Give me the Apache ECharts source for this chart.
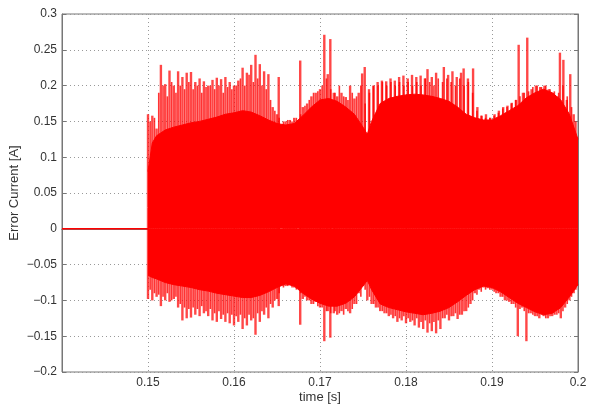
<!DOCTYPE html>
<html>
<head>
<meta charset="utf-8">
<script src="https://cdn.jsdelivr.net/npm/echarts@6/dist/echarts.min.js"></script>
<style>html,body{margin:0;padding:0;background:#fff;}#c{width:589px;height:405px;}</style>
</head>
<body>
<div id="c"></div>
<script>
// ---- data ----
const preTime = [0.14, 0.15];
const preValue = [0, 0];

const coreTime = [0.1500,0.1505,0.1510,0.1520,0.1530,0.1540,0.1550,0.1560,0.1570,0.1580,0.1590,0.1600,0.1610,0.1620,0.1630,0.1640,0.1650,0.1660,0.1670,0.1680,0.1690,0.1700,0.1710,0.1720,0.1730,0.1740,0.1750,0.1755,0.1760,0.1770,0.1780,0.1790,0.1800,0.1810,0.1820,0.1830,0.1840,0.1850,0.1860,0.1870,0.1880,0.1890,0.1900,0.1910,0.1920,0.1930,0.1940,0.1950,0.1960,0.1970,0.1980,0.1990,0.2000];
const coreTop = [0.08,0.12,0.13,0.138,0.142,0.145,0.148,0.15,0.153,0.156,0.16,0.162,0.165,0.163,0.158,0.152,0.147,0.145,0.147,0.158,0.17,0.18,0.182,0.178,0.17,0.16,0.142,0.132,0.15,0.175,0.182,0.185,0.187,0.188,0.187,0.185,0.182,0.178,0.17,0.16,0.155,0.152,0.152,0.158,0.165,0.172,0.183,0.19,0.195,0.19,0.18,0.16,0.125];
const coreBottom = [-0.065,-0.068,-0.07,-0.075,-0.078,-0.08,-0.082,-0.085,-0.087,-0.09,-0.092,-0.094,-0.096,-0.096,-0.093,-0.088,-0.082,-0.077,-0.08,-0.09,-0.098,-0.104,-0.108,-0.108,-0.104,-0.095,-0.08,-0.072,-0.085,-0.105,-0.11,-0.113,-0.116,-0.118,-0.12,-0.118,-0.115,-0.11,-0.102,-0.093,-0.085,-0.08,-0.082,-0.088,-0.096,-0.104,-0.11,-0.116,-0.12,-0.118,-0.11,-0.095,-0.078];

// tallest spikes of each ripple group
const spikeTopTime = [0.1500,0.1505,0.1510,0.1515,0.1520,0.1525,0.1530,0.1535,0.1540,0.1545,0.1550,0.1555,0.1560,0.1565,0.1570,0.1575,0.1580,0.1585,0.1590,0.1595,0.1600,0.1605,0.1610,0.1615,0.1620,0.1625,0.1630,0.1635,0.1640,0.1645,0.1650,0.1652,0.1660,0.1665,0.1670,0.1677,0.1680,0.1685,0.1690,0.1695,0.1700,0.1705,0.1709,0.1712,0.1716,0.1720,0.1725,0.1730,0.1735,0.1740,0.1745,0.1749,0.1752,0.1757,0.1762,0.1767,0.1772,0.1777,0.1782,0.1787,0.1792,0.1797,0.1802,0.1807,0.1812,0.1817,0.1822,0.1825,0.1830,0.1835,0.1844,0.1849,0.1854,0.1859,0.1864,0.1867,0.1872,0.1878,0.1883,0.1888,0.1893,0.1898,0.1903,0.1908,0.1913,0.1918,0.1923,0.1928,0.1931,0.1936,0.1941,0.1946,0.1951,0.1956,0.1961,0.1966,0.1971,0.1976,0.1979,0.1983,0.1987,0.1991,0.1995,0.1999];
const spikeTopValue = [0.16,0.158,0.14,0.229,0.202,0.221,0.2,0.22,0.212,0.218,0.219,0.205,0.21,0.206,0.2,0.208,0.211,0.209,0.212,0.205,0.2,0.207,0.225,0.218,0.229,0.243,0.23,0.22,0.216,0.17,0.16,0.212,0.15,0.152,0.155,0.235,0.17,0.175,0.185,0.19,0.195,0.271,0.216,0.265,0.19,0.185,0.19,0.184,0.2,0.182,0.19,0.217,0.226,0.195,0.2,0.205,0.207,0.206,0.21,0.207,0.212,0.214,0.21,0.215,0.212,0.214,0.21,0.223,0.212,0.218,0.226,0.215,0.22,0.212,0.218,0.224,0.21,0.224,0.17,0.158,0.16,0.155,0.16,0.165,0.17,0.172,0.176,0.18,0.257,0.19,0.267,0.195,0.2,0.198,0.2,0.195,0.19,0.185,0.246,0.236,0.18,0.216,0.16,0.128];

const spikeBottomTime = [0.1500,0.1505,0.1510,0.1515,0.1520,0.1525,0.1530,0.1535,0.1540,0.1545,0.1550,0.1555,0.1560,0.1565,0.1570,0.1575,0.1580,0.1585,0.1590,0.1595,0.1600,0.1605,0.1610,0.1615,0.1620,0.1625,0.1630,0.1635,0.1640,0.1645,0.1650,0.1652,0.1660,0.1665,0.1670,0.1677,0.1680,0.1685,0.1690,0.1695,0.1700,0.1705,0.1709,0.1712,0.1716,0.1720,0.1725,0.1730,0.1735,0.1740,0.1745,0.1750,0.1755,0.1760,0.1765,0.1770,0.1775,0.1780,0.1785,0.1790,0.1795,0.1800,0.1805,0.1810,0.1815,0.1820,0.1825,0.1830,0.1835,0.1840,0.1845,0.1850,0.1855,0.1860,0.1865,0.1870,0.1875,0.1880,0.1885,0.1890,0.1895,0.1900,0.1905,0.1910,0.1915,0.1920,0.1925,0.1930,0.1935,0.1940,0.1945,0.1950,0.1955,0.1960,0.1965,0.1970,0.1975,0.1980,0.1985,0.1990,0.1995,0.2000];
const spikeBottomValue = [-0.098,-0.1,-0.095,-0.108,-0.1,-0.102,-0.098,-0.11,-0.128,-0.125,-0.124,-0.12,-0.122,-0.118,-0.122,-0.128,-0.13,-0.126,-0.13,-0.132,-0.135,-0.13,-0.14,-0.135,-0.128,-0.148,-0.13,-0.12,-0.125,-0.11,-0.098,-0.108,-0.08,-0.078,-0.082,-0.134,-0.098,-0.1,-0.105,-0.102,-0.11,-0.157,-0.115,-0.152,-0.118,-0.12,-0.115,-0.112,-0.118,-0.105,-0.09,-0.08,-0.1,-0.105,-0.11,-0.115,-0.118,-0.122,-0.125,-0.13,-0.128,-0.132,-0.13,-0.135,-0.138,-0.14,-0.145,-0.143,-0.146,-0.14,-0.125,-0.128,-0.122,-0.126,-0.12,-0.115,-0.105,-0.09,-0.085,-0.082,-0.083,-0.085,-0.09,-0.095,-0.1,-0.102,-0.105,-0.15,-0.11,-0.157,-0.118,-0.122,-0.125,-0.122,-0.125,-0.122,-0.12,-0.125,-0.11,-0.1,-0.09,-0.078];

// medium-height spikes between the tall ones
const midTime = [0.15025,0.15075,0.15125,0.15175,0.15225,0.15275,0.15325,0.15375,0.15425,0.15475,0.15525,0.15575,0.15625,0.15675,0.15725,0.15775,0.15825,0.15875,0.15925,0.15975,0.16025,0.16075,0.16125,0.16175,0.16225,0.16275,0.16325,0.16375,0.16425,0.16475,0.16525,0.16575,0.16625,0.16675,0.16725,0.16775,0.16825,0.16875,0.16925,0.16975,0.17025,0.17075,0.17125,0.17175,0.17225,0.17275,0.17325,0.17375,0.17425,0.17475,0.17525,0.17575,0.17625,0.17675,0.17725,0.17775,0.17825,0.17875,0.17925,0.17975,0.18025,0.18075,0.18125,0.18175,0.18225,0.18275,0.18325,0.18375,0.18425,0.18475,0.18525,0.18575,0.18625,0.18675,0.18725,0.18775,0.18825,0.18875,0.18925,0.18975,0.19025,0.19075,0.19125,0.19175,0.19225,0.19275,0.19325,0.19375,0.19425,0.19475,0.19525,0.19575,0.19625,0.19675,0.19725,0.19775,0.19825,0.19875,0.19925,0.19975];
const midTopValue = [0.15,0.155,0.19,0.2,0.185,0.205,0.19,0.2,0.195,0.205,0.195,0.2,0.19,0.198,0.2,0.195,0.2,0.19,0.198,0.195,0.2,0.21,0.2,0.215,0.205,0.21,0.2,0.195,0.18,0.165,0.155,0.15,0.152,0.15,0.155,0.16,0.172,0.18,0.19,0.192,0.2,0.21,0.195,0.19,0.2,0.185,0.18,0.19,0.185,0.2,0.175,0.19,0.2,0.2,0.205,0.2,0.205,0.2,0.205,0.2,0.205,0.2,0.205,0.2,0.21,0.205,0.2,0.21,0.205,0.21,0.205,0.2,0.21,0.2,0.205,0.19,0.165,0.158,0.155,0.155,0.158,0.162,0.168,0.17,0.175,0.18,0.185,0.19,0.192,0.198,0.2,0.198,0.2,0.195,0.192,0.19,0.2,0.185,0.17,0.15];
const midBottomValue = [-0.085,-0.09,-0.092,-0.095,-0.09,-0.1,-0.095,-0.105,-0.11,-0.112,-0.11,-0.112,-0.108,-0.115,-0.112,-0.118,-0.115,-0.12,-0.118,-0.12,-0.122,-0.12,-0.125,-0.12,-0.125,-0.118,-0.115,-0.11,-0.105,-0.1,-0.09,-0.082,-0.08,-0.082,-0.085,-0.09,-0.095,-0.1,-0.105,-0.108,-0.11,-0.115,-0.118,-0.115,-0.118,-0.12,-0.115,-0.112,-0.105,-0.095,-0.085,-0.095,-0.105,-0.11,-0.115,-0.118,-0.12,-0.122,-0.125,-0.122,-0.125,-0.128,-0.125,-0.13,-0.128,-0.132,-0.13,-0.128,-0.125,-0.12,-0.122,-0.118,-0.12,-0.115,-0.11,-0.1,-0.092,-0.088,-0.085,-0.085,-0.088,-0.09,-0.095,-0.1,-0.105,-0.11,-0.112,-0.115,-0.118,-0.12,-0.122,-0.12,-0.125,-0.122,-0.12,-0.118,-0.115,-0.105,-0.095,-0.085];

// ---- chart ----
const pairs = (xs, ys) => xs.map((x, i) => [x, ys[i]]);
const RED = '#ff0000';
const FONT = 'Liberation Sans';
const fmtNum = v => String(+v.toFixed(3)).replace('-', '\u2212');

const makeSpikeRender = (width, color) => (params, api) => {
  const t = api.value(0), v = api.value(1);
  const p0 = api.coord([t, 0.03]);
  const p1 = api.coord([t, v]);
  return {
    type: 'line',
    shape: { x1: p0[0], y1: p0[1], x2: p1[0], y2: p1[1] },
    style: { stroke: color, lineWidth: width }
  };
};
const tallRender = makeSpikeRender(2.4, 'rgba(255,0,0,0.72)');
const midRender = makeSpikeRender(1.6, 'rgba(255,0,0,0.8)');

const chart = echarts.init(document.getElementById('c'), null, { renderer: 'canvas' });
chart.setOption({
  animation: false,
  backgroundColor: '#fff',
  grid: { left: 62, right: 11, top: 14, bottom: 33, outerBoundsMode: 'none', containLabel: false, show: true, borderColor: '#777', borderWidth: 1 },
  xAxis: [{
    type: 'value', min: 0.14, max: 0.2, interval: 0.01,
    name: 'time [s]', nameLocation: 'middle', nameGap: 19, nameMoveOverlap: false,
    nameTextStyle: { fontFamily: FONT, fontSize: 13, color: '#333', verticalAlign: 'top' },
    axisLine: { lineStyle: { color: '#777' } },
    axisTick: { inside: true, length: 4, lineStyle: { color: '#777' } },
    axisLabel: { showMinLabel: false, margin: 5, fontFamily: FONT, fontSize: 12, color: '#333', formatter: fmtNum },
    splitLine: { show: true, lineStyle: { color: '#999', type: [1, 3], width: 1 } }
  }, {
    type: 'value', min: 0.14, max: 0.2, interval: 0.01, position: 'top',
    axisLine: { lineStyle: { color: '#777' } },
    axisTick: { inside: true, length: 4, lineStyle: { color: '#777' } },
    axisLabel: { show: false }, splitLine: { show: false }
  }],
  yAxis: [{
    type: 'value', min: -0.2, max: 0.3, interval: 0.05,
    name: 'Error Current [A]', nameLocation: 'middle', nameGap: 41, nameMoveOverlap: false,
    nameTextStyle: { fontFamily: FONT, fontSize: 13, color: '#333' },
    axisLine: { show: true, lineStyle: { color: '#777' } },
    axisTick: { show: true, inside: true, length: 4, lineStyle: { color: '#777' } },
    axisLabel: { margin: 5, fontFamily: FONT, fontSize: 12, color: '#333', formatter: fmtNum },
    splitLine: { show: true, lineStyle: { color: '#999', type: [1, 3], width: 1 } }
  }, {
    type: 'value', min: -0.2, max: 0.3, interval: 0.05, position: 'right',
    axisLine: { show: true, lineStyle: { color: '#777' } },
    axisTick: { show: true, inside: true, length: 4, lineStyle: { color: '#777' } },
    axisLabel: { show: false }, splitLine: { show: false }
  }],
  series: [
    { type: 'line', data: pairs(preTime, preValue), showSymbol: false, lineStyle: { color: RED, width: 1.5 }, z: 3 },
    { type: 'custom', data: pairs(spikeTopTime, spikeTopValue), renderItem: tallRender, encode: { x: 0, y: 1 }, clip: true, z: 2 },
    { type: 'custom', data: pairs(spikeBottomTime, spikeBottomValue), renderItem: tallRender, encode: { x: 0, y: 1 }, clip: true, z: 2 },
    { type: 'custom', data: pairs(midTime, midTopValue), renderItem: midRender, encode: { x: 0, y: 1 }, clip: true, z: 2 },
    { type: 'custom', data: pairs(midTime, midBottomValue), renderItem: midRender, encode: { x: 0, y: 1 }, clip: true, z: 2 },
    { type: 'line', data: pairs(coreTime, coreTop), showSymbol: false, lineStyle: { color: RED, width: 1 }, areaStyle: { color: RED, opacity: 1 }, z: 4 },
    { type: 'line', data: pairs(coreTime, coreBottom), showSymbol: false, lineStyle: { color: RED, width: 1 }, areaStyle: { color: RED, opacity: 1 }, z: 4 }
  ]
});
</script>
</body>
</html>
